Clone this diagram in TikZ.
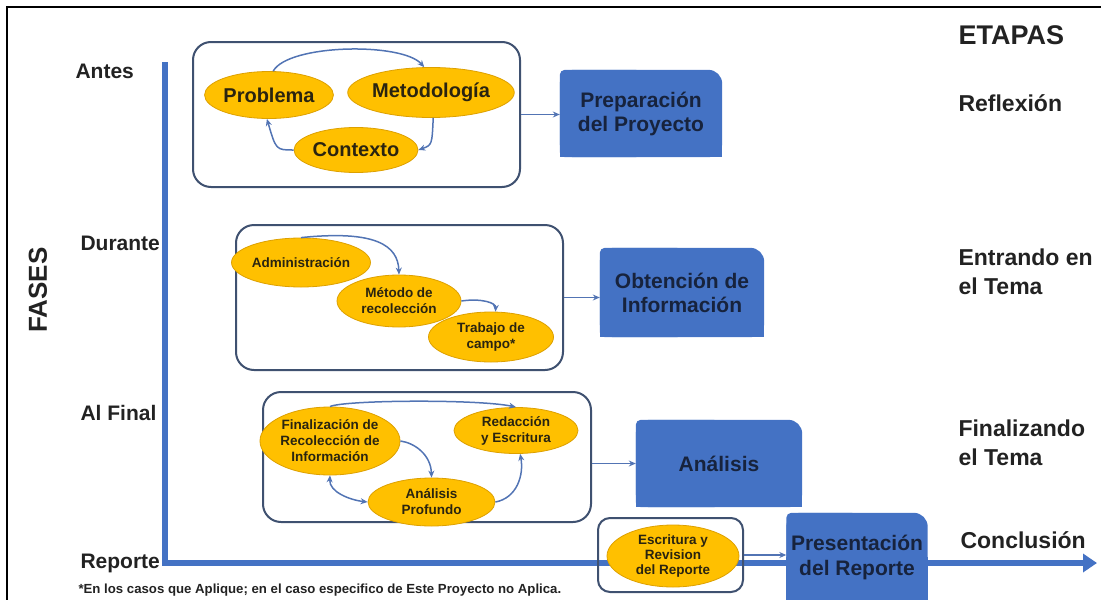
\documentclass[tikz,border=0pt]{standalone}
\usepackage{fontspec}
\setmainfont{Liberation Sans}
\usetikzlibrary{arrows.meta,shapes.geometric,backgrounds}
\definecolor{axisblue}{HTML}{4472C4}
\definecolor{fillblue}{HTML}{4472C4}
\definecolor{gold}{HTML}{FFC000}
\definecolor{goldedge}{HTML}{DDA000}
\definecolor{slate}{HTML}{3F5170}
\definecolor{conncol}{HTML}{5274B4}
\definecolor{navy}{HTML}{17233D}
\definecolor{ink}{HTML}{222222}
\definecolor{ovaltxt}{HTML}{2A2410}
\newcommand{\myfs}[2]{\fontsize{#1}{#2}\selectfont}
\begin{document}
\begin{tikzpicture}[x=1pt,y=-1pt,
 groupbox/.style={draw=slate,line width=2pt,rounded corners=18pt,inner sep=0pt},
 oval/.style={ellipse,fill=gold,draw=goldedge,line width=0.8pt,inner sep=0pt,align=center,text=ovaltxt},
 bigoval/.style={oval,font=\bfseries\myfs{20}{22}},
 smalloval/.style={oval,font=\bfseries\myfs{13.5}{16}},
 bluebox/.style={inner sep=0pt,align=center,text=navy,font=\bfseries\myfs{21}{24}},
 conn/.style={draw=conncol,line width=1.5pt,-{Stealth[length=7pt,width=6pt]}},
 axisline/.style={draw=axisblue,line width=6pt,line join=miter,-{Triangle[length=14pt,width=18pt]}},
 phase/.style={anchor=west,text=ink,font=\bfseries\myfs{21}{24}},
 stage/.style={anchor=west,text=ink,align=left,font=\bfseries\myfs{23}{29}}
]
\useasboundingbox (0,0) rectangle (1101,600);
% frame
\draw[black,line width=2pt] (7,600) -- (7,7) -- (1101,7);
% axis coordinates
\coordinate (axtop) at (165,62);
\coordinate (axcorner) at (165,563);
\coordinate (axend) at (1097,563);

% group boxes
\node[groupbox,minimum width=327,minimum height=145] (g1) at (356.5,114.5) {};
\node[groupbox,minimum width=327,minimum height=145] (g2) at (399.5,297.5) {};
\node[groupbox,minimum width=328,minimum height=130] (g3) at (427,457) {};
\node[groupbox,rounded corners=12pt,minimum width=145,minimum height=74] (g4) at (670.5,555) {};

% ellipses group 1
\node[bigoval,minimum width=127,minimum height=47] (prob) at (269,95) {Problema};
\node[bigoval,minimum width=129,minimum height=50] (met) at (431,92.5) {Metodología};
\node[bigoval,minimum width=124,minimum height=45] (ctx) at (356,150) {Contexto};
% group 2
\node[smalloval,minimum width=126,minimum height=49] (adm) at (301,262.5) {Administración};
\node[smalloval,minimum width=124,minimum height=52] (mrec) at (399,301) {Método de\\recolección};
\node[smalloval,minimum width=125,minimum height=50] (trab) at (491,337) {Trabajo de\\campo*};
% group 3
\node[smalloval,minimum width=128,minimum height=68] (fin) at (330,441) {Finalización de\\Recolección de\\Información};
\node[smalloval,minimum width=124,minimum height=46] (red) at (516,430.5) {Redacción\\y Escritura};
\node[smalloval,minimum width=127,minimum height=48] (apro) at (431.5,502) {Análisis\\Profundo};
% group 4
\node[smalloval,font=\bfseries\myfs{13.5}{15},minimum width=132,minimum height=62] (esc) at (673,556) {Escritura y\\Revision\\del Reporte};

% blue boxes
\node[bluebox,minimum width=162,minimum height=87] (prep) at (641,113.5) {Preparación\\del Proyecto};
\node[bluebox,minimum width=164,minimum height=89] (obt) at (682,292.5) {Obtención de\\Información};
\node[bluebox,minimum width=166,minimum height=87] (ana) at (719,463.5) {Análisis};
\node[bluebox,minimum width=141,minimum height=88,font=\bfseries\myfs{21}{25}] (pres) at (857,557) {Presentación\\del Reporte};

\begin{scope}[on background layer]
 \draw[axisline] (axtop) -- (axcorner) -- (axend);
 \foreach \b in {prep,obt,ana,pres}{
   \fill[fillblue,rounded corners=14pt] (\b.south west) rectangle (\b.north east);
   \fill[fillblue,rounded corners=5pt] (\b.south west) rectangle (\b.north);
   \fill[fillblue] (\b.south west) rectangle (\b.east);
 }
\end{scope}

% connectors inside groups
\draw[conn] (prob.80) .. controls (288,44) and (402,42) .. (met.105);
\draw[conn] (met.-85) .. controls (432,145) .. (ctx.east);
\draw[conn] (ctx.west) .. controls (276,150) .. (prob.-95);

\draw[conn] (adm.north) .. controls (375,230) and (398,245) .. (mrec.north);
\draw[conn] (mrec.east) .. controls (482,298) and (496,303) .. (trab.80);

\draw[conn] (fin.north) .. controls (343,400) and (478,399) .. (red.north);
\draw[conn] (fin.east) .. controls (415,443) and (431,455) .. (apro.north);
\draw[conn,{Stealth[length=7pt,width=6pt]}-{Stealth[length=7pt,width=6pt]}] (fin.south) .. controls (329,492) and (350,500) .. (apro.west);
\draw[conn] (apro.east) .. controls (517,498) and (524,475) .. (red.-80);

% connectors group -> stage box
\draw[conn] (g1.east) -- (g1.east -| prep.west);
\draw[conn] (g2.east) -- (g2.east -| obt.west);
\draw[conn] (ana.west -| g3.east) -- (ana.west);
\draw[conn] (g4.east) -- (g4.east -| pres.west);

% phase labels
\node[phase] (antes) at (72,71) {Antes};
\node[phase] (durante) at (77,243) {Durante};
\node[phase] (alfinal) at (77,413) {Al Final};
\node[phase] (reporte) at (77,563) {Reporte};
\node[rotate=90,text=ink,font=\bfseries\myfs{26}{28}] (fases) at (38,290) {FASES};

% stage labels
\node[anchor=west,text=ink,font=\bfseries\myfs{27}{30}] (etapas) at (955,35) {ETAPAS};
\node[stage] (reflex) at (955,103) {Reflexión};
\node[stage] (entrando) at (955,272) {Entrando en\\el Tema};
\node[stage] (finaliz) at (955,443) {Finalizando\\el Tema};
\node[stage] (concl) at (957,540) {Conclusión};

% footnote
\node[anchor=west,text=ink,font=\bfseries\myfs{13.2}{15}] (note) at (75,590) {*En los casos que Aplique; en el caso especifico de Este Proyecto no Aplica.};
\end{tikzpicture}
\end{document}
